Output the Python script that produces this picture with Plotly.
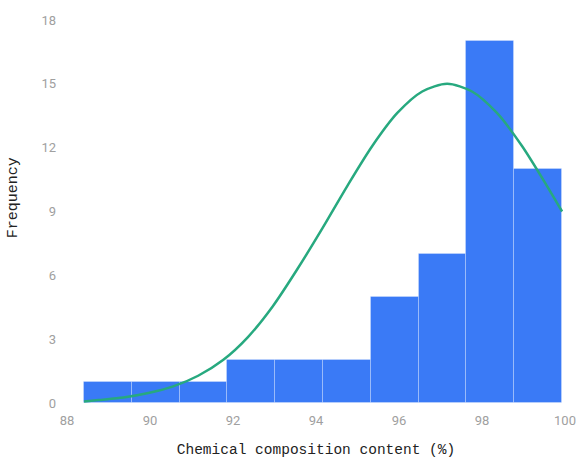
import plotly.graph_objects as go

# Histogram of composition content: 10 equal-width bins
bin_start = 88.41
bin_width = 1.152
counts = [1, 1, 1, 2, 2, 2, 5, 7, 17, 11]

# Fitted distribution curve (frequency scale)
curve_x = [88.41, 88.76, 89.36, 89.96, 90.56, 91.16, 91.76, 92.36, 92.96, 93.56,
           94.16, 94.76, 95.36, 95.96, 96.56, 97.16, 97.76, 98.36, 98.96, 99.56,
           99.93]
curve_y = [0.07, 0.14, 0.26, 0.47, 0.78, 1.28, 2.02, 3.1, 4.55, 6.32,
           8.23, 10.22, 12.09, 13.63, 14.64, 15.0, 14.64, 13.63, 12.09, 10.22,
           9.0]

x_ticks = [88, 90, 92, 94, 96, 98, 100]
y_ticks = [0, 3, 6, 9, 12, 15, 18]

centers = [bin_start + bin_width * (i + 0.5) for i in range(len(counts))]

fig = go.Figure()
fig.add_trace(go.Bar(
    x=centers, y=counts, width=[bin_width] * len(counts),
    marker=dict(color="#3a7af6", line=dict(color="rgba(255,255,255,0.25)", width=1)),
    showlegend=False, hoverinfo="x+y",
))
fig.add_trace(go.Scatter(
    x=curve_x, y=curve_y, mode="lines",
    line=dict(color="#27a97f", width=2.5, shape="spline", smoothing=0.8),
    showlegend=False,
))

tick_font = dict(family="Roboto", size=13, color="#a0a0a0")
title_font = dict(family="Liberation Mono", color="#222")
fig.update_layout(
    width=578, height=460,
    margin=dict(l=67, r=13, t=20, b=57),
    paper_bgcolor="white", plot_bgcolor="white",
    bargap=0,
    xaxis=dict(
        range=[88, 100], tickvals=x_ticks, showgrid=False, zeroline=False,
        showline=False, ticks="", tickfont=tick_font, ticklabelstandoff=8,
        automargin=False,
        title=dict(text="Chemical composition content (%)",
                   font=dict(size=14.5, **title_font), standoff=16),
    ),
    yaxis=dict(
        range=[0, 18], tickvals=y_ticks, showgrid=False, zeroline=False,
        showline=False, ticks="", tickfont=tick_font, ticklabelstandoff=10,
        automargin=False,
    ),
    annotations=[dict(
        text="Frequency", textangle=-90, showarrow=False,
        xref="paper", yref="paper", x=-0.108, y=0.535,
        xanchor="center", yanchor="middle",
        font=dict(size=15, **title_font),
    )],
)

fig.write_html("out.html")
